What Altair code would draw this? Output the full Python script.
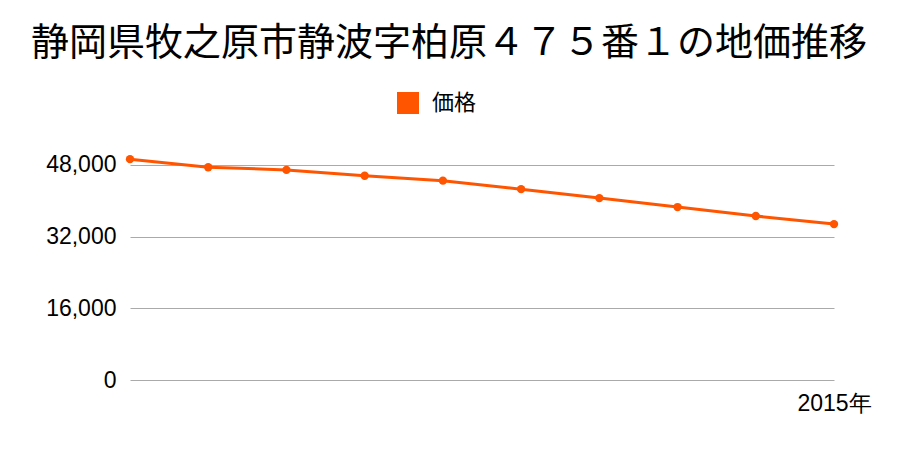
import altair as alt
import pandas as pd

years = [2006, 2007, 2008, 2009, 2010, 2011, 2012, 2013, 2014, 2015]
prices = [49300, 47500, 46900, 45600, 44500, 42600, 40600, 38600, 36600, 34800]
series = ["価格"] * len(years)

df = pd.DataFrame({"year": years, "price": prices, "series": series})

FONT = "Noto Sans CJK JP"
NUMFONT = "Liberation Sans"
COLOR = "#ff5500"

x = alt.X("year:Q",
          scale=alt.Scale(domain=[2006, 2015], nice=False, zero=False),
          axis=alt.Axis(values=[2015], labelExpr="datum.value + '年'", title=None,
                        grid=False, domain=False, ticks=False, labelFont=NUMFONT,
                        labelFontSize=23, labelColor="#000", labelPadding=12,
                        labelFlush=False))
y = alt.Y("price:Q",
          scale=alt.Scale(domain=[0, 50000], nice=False),
          axis=alt.Axis(values=[0, 16000, 32000, 48000], format=",d", title=None,
                        domain=False, ticks=False, gridColor="#aaaaaa", labelFont=NUMFONT,
                        labelFontSize=23, labelColor="#000", labelPadding=14))
color = alt.Color("series:N", scale=alt.Scale(range=[COLOR]),
                  legend=alt.Legend(title=None, orient="none", legendX=267, legendY=-64,
                                    symbolType="square", symbolSize=484, symbolOpacity=1,
                                    symbolFillColor=COLOR, symbolStrokeWidth=0,
                                    labelOffset=13,
                                    labelFont=FONT, labelFontSize=22, labelColor="#000"))

line = alt.Chart(df).mark_line(strokeWidth=3).encode(x=x, y=y, color=color)
pts = alt.Chart(df).mark_circle(size=70, opacity=1).encode(x=x, y=y, color=color)

chart = (line + pts).properties(
    width=704, height=224,
    autosize=alt.AutoSizeParams(type="none"),
    padding={"left": 122, "top": 148, "right": 50, "bottom": 60},
    title=alt.TitleParams("静岡県牧之原市静波字柏原４７５番１の地価推移", font=FONT,
                          fontSize=38, fontWeight="normal", color="#000",
                          anchor="middle", dx=-33, offset=29),
).configure_view(stroke=None)

chart.save("out.html", embed_options={"renderer": "svg", "actions": False})
